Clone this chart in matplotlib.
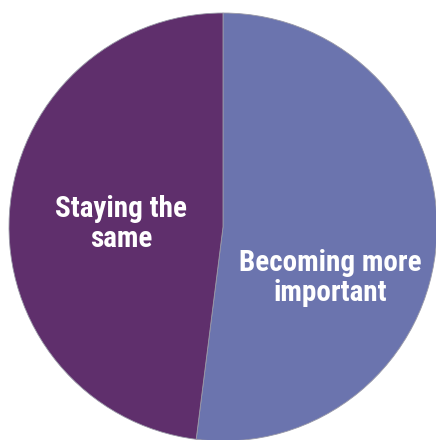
import matplotlib.pyplot as plt

# survey answers, share of respondents (%)
labels = ['Becoming more\nimportant', 'Staying the\nsame']
shares = [52, 48]
colors = ['#6b74ae', '#5f2f6c']

fig = plt.figure(figsize=(4.36, 4.40), dpi=100)
ax = fig.add_axes([0, 0, 1, 1])

wedges, _ = ax.pie(shares, colors=colors, startangle=90, counterclock=False,
                   center=(223, 213), radius=214,
                   wedgeprops={'linewidth': 0.6, 'edgecolor': '#9a9aa8'})
ax.set_xlim(0, 436)
ax.set_ylim(0, 440)
ax.set_aspect('equal')
ax.axis('off')

# label positions inside each slice
label_xy = [(330, 162), (121, 216)]
for (x, y), text in zip(label_xy, labels):
    ax.text(x, y, text, ha='center', va='center', color='white',
            fontsize=21, fontweight='bold', family=['Roboto Condensed', 'DejaVu Sans'],
            linespacing=1.1)

fig.savefig('out.png', dpi=100)
